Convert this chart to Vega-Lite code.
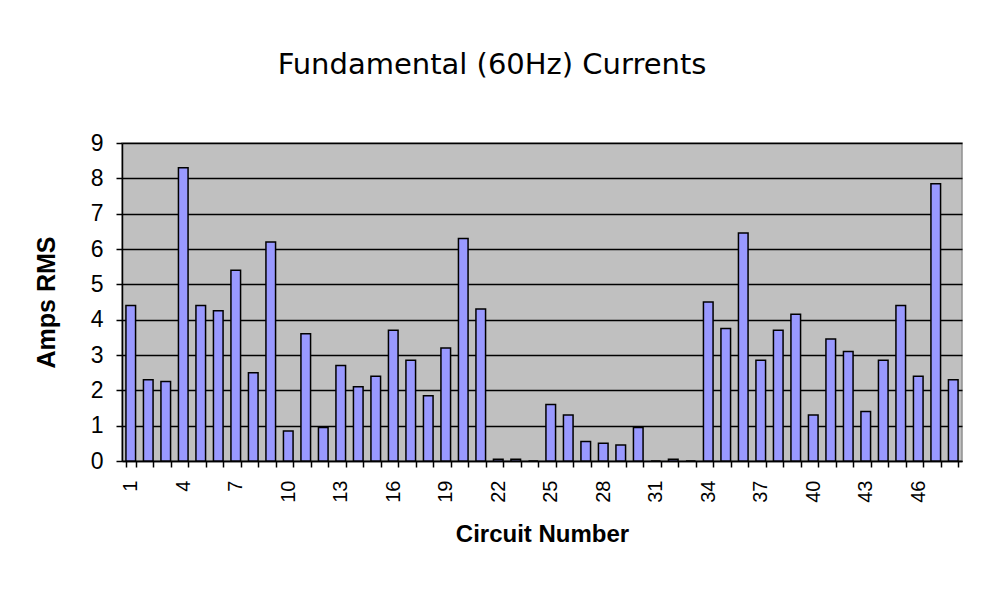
{
  "$schema": "https://vega.github.io/schema/vega-lite/v6.json",
  "width": 840,
  "height": 318,
  "autosize": {"type": "none"},
  "padding": {"left": 122, "top": 143, "right": 27, "bottom": 129},
  "background": "white",
  "title": {
    "text": "Fundamental (60Hz) Currents",
    "font": "DejaVu Sans",
    "fontSize": 29,
    "fontWeight": "normal",
    "color": "black",
    "anchor": "middle",
    "dx": -50,
    "offset": 52
  },
  "data": {
    "values": [
      {"circuit": 1, "amps": 4.4}, {"circuit": 2, "amps": 2.3}, {"circuit": 3, "amps": 2.25},
      {"circuit": 4, "amps": 8.3}, {"circuit": 5, "amps": 4.4}, {"circuit": 6, "amps": 4.25},
      {"circuit": 7, "amps": 5.4}, {"circuit": 8, "amps": 2.5}, {"circuit": 9, "amps": 6.2},
      {"circuit": 10, "amps": 0.85}, {"circuit": 11, "amps": 3.6}, {"circuit": 12, "amps": 0.95},
      {"circuit": 13, "amps": 2.7}, {"circuit": 14, "amps": 2.1}, {"circuit": 15, "amps": 2.4},
      {"circuit": 16, "amps": 3.7}, {"circuit": 17, "amps": 2.85}, {"circuit": 18, "amps": 1.85},
      {"circuit": 19, "amps": 3.2}, {"circuit": 20, "amps": 6.3}, {"circuit": 21, "amps": 4.3},
      {"circuit": 22, "amps": 0.05}, {"circuit": 23, "amps": 0.05}, {"circuit": 24, "amps": 0},
      {"circuit": 25, "amps": 1.6}, {"circuit": 26, "amps": 1.3}, {"circuit": 27, "amps": 0.55},
      {"circuit": 28, "amps": 0.5}, {"circuit": 29, "amps": 0.45}, {"circuit": 30, "amps": 0.95},
      {"circuit": 31, "amps": 0}, {"circuit": 32, "amps": 0.05}, {"circuit": 33, "amps": 0},
      {"circuit": 34, "amps": 4.5}, {"circuit": 35, "amps": 3.75}, {"circuit": 36, "amps": 6.45},
      {"circuit": 37, "amps": 2.85}, {"circuit": 38, "amps": 3.7}, {"circuit": 39, "amps": 4.15},
      {"circuit": 40, "amps": 1.3}, {"circuit": 41, "amps": 3.45}, {"circuit": 42, "amps": 3.1},
      {"circuit": 43, "amps": 1.4}, {"circuit": 44, "amps": 2.85}, {"circuit": 45, "amps": 4.4},
      {"circuit": 46, "amps": 2.4}, {"circuit": 47, "amps": 7.85}, {"circuit": 48, "amps": 2.3}
    ]
  },
  "mark": {"type": "bar", "color": "#9999FF", "stroke": "black", "strokeWidth": 1.5},
  "encoding": {
    "x": {
      "field": "circuit",
      "type": "ordinal",
      "scale": {"paddingInner": 0.45, "paddingOuter": 0.225},
      "axis": {
        "title": "Circuit Number",
        "titleFont": "Liberation Sans",
        "titleFontSize": 24,
        "titleFontWeight": "bold",
        "titleColor": "black",
        "titlePadding": 20,
        "labelAngle": -90,
        "labelFont": "Liberation Sans",
        "labelFontSize": 20,
        "labelColor": "black",
        "labelPadding": 13,
        "labelExpr": "(datum.value - 1) % 3 == 0 ? datum.label : ''",
        "tickBand": "extent",
        "tickColor": "black",
        "tickSize": 6,
        "tickWidth": 1.5,
        "domainColor": "black",
        "domainWidth": 1.5,
        "grid": false
      }
    },
    "y": {
      "field": "amps",
      "type": "quantitative",
      "scale": {"domain": [0, 9], "nice": false},
      "axis": {
        "title": "Amps RMS",
        "titleFont": "Liberation Sans",
        "titleFontSize": 25,
        "titleFontWeight": "bold",
        "titleColor": "black",
        "titlePadding": 31,
        "values": [0, 1, 2, 3, 4, 5, 6, 7, 8, 9],
        "labelFont": "Liberation Sans",
        "labelFontSize": 23,
        "labelColor": "black",
        "labelPadding": 13,
        "tickColor": "black",
        "tickSize": 6,
        "tickWidth": 1.5,
        "domainColor": "black",
        "domainWidth": 1.5,
        "grid": true,
        "gridColor": "black",
        "gridWidth": 1.5
      }
    }
  },
  "config": {
    "view": {"fill": "#C0C0C0", "stroke": "#909090", "strokeWidth": 1.5}
  }
}
